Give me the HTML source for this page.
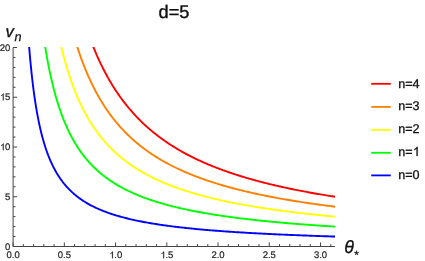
<!DOCTYPE html>
<html><head><meta charset="utf-8"><title>d=5</title>
<style>
html,body{margin:0;padding:0;background:#fff;}
body{width:425px;height:261px;overflow:hidden;font-family:"Liberation Sans",sans-serif;}
svg{display:block;will-change:transform;transform:translateZ(0);}
text{font-family:"Liberation Sans",sans-serif;text-rendering:geometricPrecision;}
.tk{font-size:9.5px;fill:#222;stroke:#222;stroke-width:0.2px;}
.lg{font-size:12.6px;fill:#111;stroke:#111;stroke-width:0.3px;letter-spacing:-0.1px;}
.ti{font-size:18.2px;fill:#111;stroke:#111;stroke-width:0.4px;}
.ax{font-size:17px;font-style:italic;fill:#111;stroke:#111;stroke-width:0.3px;}
.sub{font-size:14px;font-style:italic;fill:#111;stroke:#111;stroke-width:0.25px;}
</style></head><body>
<svg width="425" height="261" viewBox="0 0 425 261">
<rect width="425" height="261" fill="#fff"/>
<defs><clipPath id="cp"><rect x="13" y="47" width="323" height="201"/></clipPath></defs>
<g clip-path="url(#cp)"><path d="M28.88 43.52 L28.89 43.66 L28.92 44.00 L28.96 44.50 L29.01 45.17 L29.07 45.97 L29.15 46.91 L29.23 47.97 L29.33 49.14 L29.44 50.42 L29.55 51.81 L29.68 53.28 L29.81 54.84 L29.96 56.49 L30.11 58.20 L30.27 59.99 L30.45 61.83 L30.63 63.74 L30.81 65.69 L31.01 67.68 L31.22 69.72 L31.43 71.79 L31.66 73.89 L31.89 76.01 L32.13 78.16 L32.37 80.32 L32.63 82.50 L32.89 84.68 L33.17 86.87 L33.45 89.06 L33.73 91.25 L34.03 93.44 L34.33 95.62 L34.64 97.80 L34.96 99.96 L35.28 102.11 L35.62 104.25 L35.96 106.37 L36.31 108.47 L36.66 110.55 L37.02 112.61 L37.39 114.65 L37.77 116.67 L38.16 118.66 L38.55 120.63 L38.95 122.57 L39.35 124.49 L39.77 126.38 L40.19 128.25 L40.61 130.09 L41.05 131.90 L41.49 133.68 L41.94 135.43 L42.39 137.16 L42.86 138.86 L43.33 140.53 L43.80 142.17 L44.29 143.79 L44.78 145.38 L45.27 146.94 L45.78 148.47 L46.29 149.98 L46.80 151.46 L47.33 152.92 L47.86 154.34 L48.39 155.75 L48.94 157.12 L49.49 158.47 L50.05 159.80 L50.61 161.10 L51.18 162.38 L51.76 163.64 L52.34 164.87 L52.93 166.08 L53.52 167.26 L54.13 168.43 L54.74 169.57 L55.35 170.69 L55.97 171.79 L56.60 172.87 L57.24 173.93 L57.88 174.97 L58.53 175.99 L59.18 176.99 L59.84 177.97 L60.51 178.93 L61.18 179.88 L61.86 180.81 L62.54 181.72 L63.24 182.61 L63.93 183.49 L64.64 184.35 L65.35 185.20 L66.07 186.02 L66.79 186.84 L67.52 187.64 L68.25 188.42 L68.99 189.19 L69.74 189.95 L70.49 190.69 L71.25 191.42 L72.02 192.14 L72.79 192.84 L73.57 193.53 L74.35 194.21 L75.14 194.87 L75.94 195.53 L76.74 196.17 L77.55 196.80 L78.36 197.42 L79.18 198.03 L80.01 198.63 L80.84 199.22 L81.68 199.79 L82.53 200.36 L83.38 200.92 L84.23 201.47 L85.09 202.01 L85.96 202.54 L86.83 203.06 L87.71 203.57 L88.60 204.07 L89.49 204.57 L90.39 205.06 L91.29 205.54 L92.20 206.01 L93.11 206.47 L94.04 206.92 L94.96 207.37 L95.89 207.81 L96.83 208.25 L97.78 208.67 L98.72 209.09 L99.68 209.50 L100.64 209.91 L101.61 210.31 L102.58 210.70 L103.56 211.09 L104.54 211.47 L105.53 211.85 L106.53 212.22 L107.53 212.58 L108.54 212.94 L109.55 213.29 L110.57 213.64 L111.59 213.98 L112.62 214.31 L113.66 214.65 L114.70 214.97 L115.74 215.29 L116.80 215.61 L117.85 215.92 L118.92 216.23 L119.99 216.53 L121.06 216.83 L122.14 217.12 L123.23 217.41 L124.32 217.70 L125.41 217.98 L126.52 218.26 L127.63 218.53 L128.74 218.80 L129.86 219.07 L130.98 219.33 L132.11 219.59 L133.25 219.84 L134.39 220.09 L135.54 220.34 L136.69 220.58 L137.85 220.82 L139.01 221.06 L140.18 221.29 L141.35 221.53 L142.53 221.75 L143.72 221.98 L144.91 222.20 L146.11 222.42 L147.31 222.63 L148.51 222.85 L149.73 223.06 L150.95 223.26 L152.17 223.47 L153.40 223.67 L154.63 223.87 L155.87 224.06 L157.12 224.26 L158.37 224.45 L159.62 224.64 L160.88 224.83 L162.15 225.01 L163.42 225.19 L164.70 225.37 L165.98 225.55 L167.27 225.72 L168.56 225.90 L169.86 226.07 L171.17 226.24 L172.48 226.40 L173.79 226.57 L175.11 226.73 L176.44 226.89 L177.77 227.05 L179.10 227.20 L180.44 227.36 L181.79 227.51 L183.14 227.66 L184.50 227.81 L185.86 227.96 L187.23 228.11 L188.60 228.25 L189.98 228.39 L191.36 228.53 L192.75 228.67 L194.15 228.81 L195.55 228.94 L196.95 229.08 L198.36 229.21 L199.77 229.34 L201.19 229.47 L202.62 229.60 L204.05 229.73 L205.49 229.85 L206.93 229.97 L208.37 230.10 L209.83 230.22 L211.28 230.34 L212.74 230.46 L214.21 230.57 L215.68 230.69 L217.16 230.80 L218.64 230.92 L220.13 231.03 L221.62 231.14 L223.12 231.25 L224.62 231.36 L226.13 231.46 L227.65 231.57 L229.16 231.68 L230.69 231.78 L232.22 231.88 L233.75 231.98 L235.29 232.08 L236.83 232.18 L238.38 232.28 L239.94 232.38 L241.50 232.48 L243.06 232.57 L244.63 232.67 L246.21 232.76 L247.79 232.85 L249.37 232.94 L250.96 233.03 L252.56 233.12 L254.16 233.21 L255.76 233.30 L257.37 233.39 L258.99 233.47 L260.61 233.56 L262.23 233.64 L263.86 233.73 L265.50 233.81 L267.14 233.89 L268.79 233.97 L270.44 234.05 L272.09 234.13 L273.75 234.21 L275.42 234.29 L277.09 234.37 L278.77 234.44 L280.45 234.52 L282.13 234.59 L283.82 234.67 L285.52 234.74 L287.22 234.82 L288.93 234.89 L290.64 234.96 L292.35 235.03 L294.07 235.10 L295.80 235.17 L297.53 235.24 L299.27 235.31 L301.01 235.37 L302.75 235.44 L304.50 235.51 L306.26 235.57 L308.02 235.64 L309.78 235.70 L311.56 235.77 L313.33 235.83 L315.11 235.89 L316.90 235.96 L318.69 236.02 L320.48 236.08 L322.28 236.14 L324.09 236.20 L325.90 236.26 L327.71 236.32 L329.53 236.38 L331.36 236.44 L333.18 236.49 L335.02 236.55" stroke="#0000ff" stroke-width="1.9" fill="none" stroke-linejoin="round"/><path d="M44.66 43.52 L44.67 43.58 L44.70 43.75 L44.73 43.99 L44.78 44.30 L44.84 44.69 L44.91 45.14 L45.00 45.65 L45.09 46.22 L45.19 46.85 L45.30 47.54 L45.42 48.27 L45.55 49.05 L45.68 49.88 L45.83 50.76 L45.98 51.68 L46.15 52.64 L46.32 53.64 L46.50 54.67 L46.68 55.74 L46.88 56.85 L47.08 57.98 L47.29 59.15 L47.51 60.34 L47.74 61.57 L47.98 62.81 L48.22 64.08 L48.47 65.37 L48.73 66.68 L48.99 68.01 L49.26 69.35 L49.54 70.71 L49.83 72.08 L50.12 73.47 L50.43 74.87 L50.73 76.28 L51.05 77.69 L51.37 79.12 L51.70 80.55 L52.04 81.99 L52.38 83.43 L52.74 84.87 L53.09 86.32 L53.46 87.77 L53.83 89.22 L54.21 90.66 L54.59 92.11 L54.99 93.56 L55.38 95.00 L55.79 96.44 L56.20 97.87 L56.62 99.30 L57.05 100.73 L57.48 102.15 L57.92 103.56 L58.36 104.96 L58.81 106.36 L59.27 107.75 L59.74 109.14 L60.21 110.51 L60.69 111.87 L61.17 113.23 L61.66 114.58 L62.16 115.91 L62.66 117.24 L63.17 118.55 L63.68 119.86 L64.21 121.15 L64.73 122.43 L65.27 123.70 L65.81 124.96 L66.36 126.21 L66.91 127.45 L67.47 128.67 L68.03 129.89 L68.61 131.09 L69.18 132.28 L69.77 133.45 L70.36 134.62 L70.95 135.77 L71.56 136.91 L72.16 138.04 L72.78 139.15 L73.40 140.26 L74.02 141.35 L74.66 142.43 L75.30 143.50 L75.94 144.55 L76.59 145.60 L77.25 146.63 L77.91 147.65 L78.58 148.66 L79.25 149.66 L79.93 150.64 L80.61 151.61 L81.31 152.58 L82.00 153.53 L82.71 154.47 L83.42 155.39 L84.13 156.31 L84.85 157.22 L85.58 158.11 L86.31 158.99 L87.05 159.87 L87.79 160.73 L88.54 161.58 L89.29 162.42 L90.06 163.25 L90.82 164.08 L91.59 164.89 L92.37 165.69 L93.16 166.48 L93.94 167.26 L94.74 168.03 L95.54 168.79 L96.35 169.55 L97.16 170.29 L97.98 171.02 L98.80 171.75 L99.63 172.46 L100.46 173.17 L101.30 173.87 L102.15 174.56 L103.00 175.24 L103.85 175.91 L104.72 176.58 L105.58 177.23 L106.46 177.88 L107.34 178.52 L108.22 179.15 L109.11 179.78 L110.00 180.39 L110.91 181.00 L111.81 181.60 L112.72 182.20 L113.64 182.78 L114.56 183.36 L115.49 183.93 L116.42 184.50 L117.36 185.06 L118.31 185.61 L119.26 186.15 L120.21 186.69 L121.17 187.22 L122.14 187.75 L123.11 188.27 L124.08 188.78 L125.07 189.28 L126.05 189.78 L127.05 190.28 L128.04 190.77 L129.05 191.25 L130.06 191.73 L131.07 192.20 L132.09 192.66 L133.11 193.12 L134.14 193.58 L135.18 194.02 L136.22 194.47 L137.26 194.91 L138.32 195.34 L139.37 195.77 L140.43 196.19 L141.50 196.61 L142.57 197.02 L143.65 197.43 L144.73 197.83 L145.82 198.23 L146.91 198.63 L148.01 199.02 L149.11 199.40 L150.22 199.78 L151.34 200.16 L152.46 200.53 L153.58 200.90 L154.71 201.26 L155.84 201.62 L156.98 201.98 L158.13 202.33 L159.28 202.68 L160.43 203.02 L161.59 203.36 L162.76 203.69 L163.93 204.03 L165.11 204.36 L166.29 204.68 L167.47 205.00 L168.66 205.32 L169.86 205.63 L171.06 205.94 L172.27 206.25 L173.48 206.56 L174.70 206.86 L175.92 207.15 L177.14 207.45 L178.38 207.74 L179.61 208.03 L180.85 208.31 L182.10 208.59 L183.35 208.87 L184.61 209.15 L185.87 209.42 L187.14 209.69 L188.41 209.96 L189.69 210.22 L190.97 210.48 L192.26 210.74 L193.55 211.00 L194.85 211.25 L196.15 211.50 L197.46 211.75 L198.77 212.00 L200.09 212.24 L201.41 212.48 L202.73 212.72 L204.07 212.95 L205.40 213.19 L206.75 213.42 L208.09 213.65 L209.44 213.87 L210.80 214.10 L212.16 214.32 L213.53 214.54 L214.90 214.76 L216.28 214.97 L217.66 215.18 L219.05 215.39 L220.44 215.60 L221.83 215.81 L223.24 216.01 L224.64 216.22 L226.05 216.42 L227.47 216.62 L228.89 216.81 L230.31 217.01 L231.75 217.20 L233.18 217.39 L234.62 217.58 L236.07 217.77 L237.52 217.95 L238.97 218.14 L240.43 218.32 L241.90 218.50 L243.37 218.68 L244.84 218.86 L246.32 219.03 L247.80 219.21 L249.29 219.38 L250.78 219.55 L252.28 219.72 L253.79 219.88 L255.29 220.05 L256.81 220.21 L258.33 220.38 L259.85 220.54 L261.38 220.70 L262.91 220.86 L264.44 221.01 L265.99 221.17 L267.53 221.32 L269.08 221.47 L270.64 221.63 L272.20 221.78 L273.77 221.92 L275.34 222.07 L276.91 222.22 L278.49 222.36 L280.08 222.50 L281.67 222.65 L283.26 222.79 L284.86 222.93 L286.46 223.07 L288.07 223.20 L289.68 223.34 L291.30 223.47 L292.93 223.61 L294.55 223.74 L296.18 223.87 L297.82 224.00 L299.46 224.13 L301.11 224.26 L302.76 224.38 L304.42 224.51 L306.08 224.63 L307.74 224.76 L309.41 224.88 L311.09 225.00 L312.76 225.12 L314.45 225.24 L316.14 225.36 L317.83 225.48 L319.53 225.59 L321.23 225.71 L322.94 225.82 L324.65 225.94 L326.37 226.05 L328.09 226.16 L329.81 226.27 L331.54 226.38 L333.28 226.49 L335.02 226.60" stroke="#00ff00" stroke-width="1.9" fill="none" stroke-linejoin="round"/><path d="M60.44 43.52 L60.45 43.56 L60.47 43.66 L60.51 43.82 L60.56 44.02 L60.61 44.26 L60.68 44.54 L60.76 44.87 L60.84 45.23 L60.94 45.63 L61.04 46.07 L61.16 46.54 L61.28 47.04 L61.41 47.58 L61.54 48.14 L61.69 48.74 L61.84 49.37 L62.01 50.02 L62.18 50.70 L62.35 51.40 L62.54 52.13 L62.73 52.89 L62.93 53.66 L63.14 54.46 L63.35 55.28 L63.58 56.12 L63.80 56.98 L64.04 57.86 L64.28 58.76 L64.54 59.68 L64.79 60.61 L65.06 61.55 L65.33 62.52 L65.61 63.49 L65.89 64.48 L66.18 65.48 L66.48 66.49 L66.79 67.52 L67.10 68.55 L67.42 69.60 L67.74 70.65 L68.08 71.71 L68.42 72.78 L68.76 73.86 L69.11 74.94 L69.47 76.03 L69.83 77.13 L70.20 78.23 L70.58 79.33 L70.97 80.44 L71.36 81.55 L71.75 82.66 L72.15 83.78 L72.56 84.90 L72.98 86.02 L73.40 87.14 L73.83 88.26 L74.26 89.38 L74.70 90.50 L75.14 91.62 L75.59 92.74 L76.05 93.86 L76.52 94.97 L76.99 96.09 L77.46 97.20 L77.94 98.31 L78.43 99.41 L78.92 100.52 L79.42 101.62 L79.93 102.71 L80.44 103.80 L80.96 104.89 L81.48 105.97 L82.01 107.05 L82.54 108.13 L83.09 109.20 L83.63 110.26 L84.18 111.32 L84.74 112.37 L85.31 113.42 L85.87 114.46 L86.45 115.49 L87.03 116.52 L87.62 117.55 L88.21 118.56 L88.81 119.57 L89.41 120.58 L90.02 121.57 L90.63 122.56 L91.26 123.55 L91.88 124.53 L92.51 125.50 L93.15 126.46 L93.79 127.42 L94.44 128.36 L95.09 129.31 L95.75 130.24 L96.42 131.17 L97.09 132.09 L97.77 133.00 L98.45 133.91 L99.13 134.81 L99.83 135.70 L100.52 136.58 L101.23 137.46 L101.94 138.33 L102.65 139.19 L103.37 140.05 L104.09 140.90 L104.82 141.74 L105.56 142.57 L106.30 143.40 L107.05 144.22 L107.80 145.03 L108.56 145.83 L109.32 146.63 L110.09 147.42 L110.86 148.20 L111.64 148.98 L112.42 149.75 L113.21 150.51 L114.00 151.27 L114.80 152.02 L115.61 152.76 L116.42 153.49 L117.23 154.22 L118.05 154.94 L118.88 155.66 L119.71 156.36 L120.55 157.07 L121.39 157.76 L122.23 158.45 L123.09 159.13 L123.94 159.81 L124.80 160.48 L125.67 161.14 L126.54 161.79 L127.42 162.44 L128.30 163.09 L129.19 163.73 L130.08 164.36 L130.98 164.98 L131.89 165.60 L132.79 166.22 L133.71 166.83 L134.62 167.43 L135.55 168.02 L136.48 168.61 L137.41 169.20 L138.35 169.78 L139.29 170.35 L140.24 170.92 L141.20 171.48 L142.15 172.04 L143.12 172.59 L144.09 173.14 L145.06 173.68 L146.04 174.22 L147.02 174.75 L148.01 175.27 L149.01 175.79 L150.01 176.31 L151.01 176.82 L152.02 177.33 L153.03 177.83 L154.05 178.32 L155.07 178.82 L156.10 179.30 L157.14 179.79 L158.17 180.26 L159.22 180.74 L160.27 181.20 L161.32 181.67 L162.38 182.13 L163.44 182.58 L164.51 183.03 L165.58 183.48 L166.66 183.92 L167.74 184.36 L168.83 184.80 L169.92 185.22 L171.02 185.65 L172.12 186.07 L173.23 186.49 L174.34 186.90 L175.46 187.31 L176.58 187.72 L177.70 188.12 L178.84 188.52 L179.97 188.92 L181.11 189.31 L182.26 189.69 L183.41 190.08 L184.56 190.46 L185.72 190.83 L186.89 191.21 L188.06 191.58 L189.23 191.94 L190.41 192.31 L191.60 192.67 L192.78 193.02 L193.98 193.37 L195.18 193.72 L196.38 194.07 L197.59 194.41 L198.80 194.75 L200.02 195.09 L201.24 195.42 L202.46 195.76 L203.70 196.08 L204.93 196.41 L206.17 196.73 L207.42 197.05 L208.67 197.37 L209.92 197.68 L211.18 197.99 L212.45 198.30 L213.72 198.60 L214.99 198.90 L216.27 199.20 L217.55 199.50 L218.84 199.79 L220.13 200.09 L221.43 200.37 L222.73 200.66 L224.04 200.95 L225.35 201.23 L226.67 201.51 L227.99 201.78 L229.31 202.06 L230.64 202.33 L231.97 202.60 L233.31 202.86 L234.66 203.13 L236.01 203.39 L237.36 203.65 L238.72 203.91 L240.08 204.16 L241.44 204.42 L242.82 204.67 L244.19 204.92 L245.57 205.16 L246.96 205.41 L248.35 205.65 L249.74 205.89 L251.14 206.13 L252.54 206.37 L253.95 206.60 L255.36 206.84 L256.78 207.07 L258.20 207.29 L259.63 207.52 L261.06 207.75 L262.49 207.97 L263.93 208.19 L265.38 208.41 L266.83 208.63 L268.28 208.84 L269.74 209.06 L271.20 209.27 L272.67 209.48 L274.14 209.69 L275.62 209.90 L277.10 210.10 L278.58 210.30 L280.07 210.51 L281.56 210.71 L283.06 210.91 L284.57 211.10 L286.07 211.30 L287.59 211.49 L289.10 211.68 L290.62 211.87 L292.15 212.06 L293.68 212.25 L295.21 212.44 L296.75 212.62 L298.30 212.81 L299.84 212.99 L301.40 213.17 L302.95 213.35 L304.51 213.53 L306.08 213.70 L307.65 213.88 L309.22 214.05 L310.80 214.22 L312.39 214.39 L313.97 214.56 L315.57 214.73 L317.16 214.90 L318.76 215.06 L320.37 215.23 L321.98 215.39 L323.59 215.55 L325.21 215.71 L326.84 215.87 L328.46 216.03 L330.10 216.19 L331.73 216.34 L333.37 216.50 L335.02 216.65" stroke="#ffff00" stroke-width="1.9" fill="none" stroke-linejoin="round"/><path d="M76.22 43.52 L76.23 43.55 L76.25 43.62 L76.29 43.73 L76.33 43.87 L76.38 44.04 L76.45 44.25 L76.52 44.48 L76.60 44.73 L76.69 45.02 L76.79 45.33 L76.90 45.66 L77.01 46.02 L77.13 46.41 L77.26 46.81 L77.40 47.24 L77.54 47.69 L77.70 48.16 L77.86 48.65 L78.02 49.16 L78.20 49.68 L78.38 50.23 L78.57 50.80 L78.76 51.38 L78.97 51.98 L79.18 52.59 L79.39 53.23 L79.61 53.87 L79.84 54.54 L80.08 55.21 L80.32 55.90 L80.57 56.61 L80.83 57.33 L81.09 58.06 L81.36 58.80 L81.63 59.55 L81.92 60.32 L82.20 61.09 L82.50 61.88 L82.80 62.68 L83.11 63.48 L83.42 64.29 L83.74 65.12 L84.06 65.95 L84.39 66.79 L84.73 67.63 L85.07 68.49 L85.42 69.35 L85.78 70.21 L86.14 71.09 L86.51 71.96 L86.88 72.85 L87.26 73.74 L87.65 74.63 L88.04 75.52 L88.43 76.42 L88.84 77.33 L89.24 78.24 L89.66 79.15 L90.08 80.06 L90.50 80.97 L90.94 81.89 L91.37 82.81 L91.82 83.73 L92.26 84.65 L92.72 85.58 L93.18 86.50 L93.64 87.42 L94.11 88.35 L94.59 89.27 L95.07 90.20 L95.56 91.12 L96.05 92.05 L96.55 92.97 L97.05 93.89 L97.56 94.81 L98.08 95.73 L98.60 96.65 L99.13 97.56 L99.66 98.48 L100.19 99.39 L100.74 100.30 L101.28 101.21 L101.84 102.11 L102.39 103.01 L102.96 103.91 L103.53 104.81 L104.10 105.71 L104.68 106.60 L105.26 107.48 L105.85 108.37 L106.45 109.25 L107.05 110.13 L107.66 111.00 L108.27 111.87 L108.88 112.74 L109.50 113.60 L110.13 114.46 L110.76 115.31 L111.40 116.16 L112.04 117.01 L112.69 117.85 L113.34 118.69 L114.00 119.52 L114.66 120.35 L115.33 121.17 L116.00 121.99 L116.68 122.81 L117.37 123.62 L118.05 124.42 L118.75 125.22 L119.45 126.02 L120.15 126.81 L120.86 127.60 L121.57 128.38 L122.29 129.16 L123.01 129.93 L123.74 130.70 L124.47 131.46 L125.21 132.22 L125.96 132.97 L126.71 133.72 L127.46 134.46 L128.22 135.20 L128.98 135.93 L129.75 136.66 L130.52 137.39 L131.30 138.10 L132.08 138.82 L132.87 139.53 L133.66 140.23 L134.46 140.93 L135.27 141.62 L136.07 142.31 L136.89 143.00 L137.70 143.67 L138.52 144.35 L139.35 145.02 L140.18 145.68 L141.02 146.34 L141.86 147.00 L142.71 147.65 L143.56 148.29 L144.42 148.93 L145.28 149.57 L146.14 150.20 L147.01 150.82 L147.89 151.44 L148.77 152.06 L149.65 152.67 L150.54 153.28 L151.44 153.88 L152.33 154.48 L153.24 155.07 L154.15 155.66 L155.06 156.25 L155.98 156.83 L156.90 157.40 L157.83 157.97 L158.76 158.54 L159.70 159.10 L160.64 159.66 L161.58 160.21 L162.54 160.76 L163.49 161.31 L164.45 161.85 L165.42 162.38 L166.39 162.91 L167.36 163.44 L168.34 163.97 L169.32 164.49 L170.31 165.00 L171.30 165.51 L172.30 166.02 L173.30 166.52 L174.31 167.02 L175.32 167.52 L176.34 168.01 L177.36 168.50 L178.38 168.98 L179.41 169.46 L180.44 169.94 L181.48 170.41 L182.53 170.88 L183.57 171.34 L184.63 171.80 L185.68 172.26 L186.75 172.72 L187.81 173.17 L188.88 173.61 L189.96 174.06 L191.04 174.49 L192.12 174.93 L193.21 175.36 L194.30 175.79 L195.40 176.22 L196.50 176.64 L197.61 177.06 L198.72 177.48 L199.84 177.89 L200.96 178.30 L202.08 178.70 L203.21 179.11 L204.35 179.51 L205.48 179.90 L206.63 180.30 L207.78 180.69 L208.93 181.07 L210.08 181.46 L211.24 181.84 L212.41 182.22 L213.58 182.59 L214.75 182.96 L215.93 183.33 L217.11 183.70 L218.30 184.06 L219.49 184.42 L220.69 184.78 L221.89 185.13 L223.09 185.49 L224.30 185.84 L225.52 186.18 L226.74 186.53 L227.96 186.87 L229.19 187.21 L230.42 187.54 L231.65 187.88 L232.89 188.21 L234.14 188.54 L235.39 188.86 L236.64 189.18 L237.90 189.50 L239.16 189.82 L240.42 190.14 L241.70 190.45 L242.97 190.76 L244.25 191.07 L245.53 191.38 L246.82 191.68 L248.11 191.98 L249.41 192.28 L250.71 192.58 L252.02 192.87 L253.33 193.17 L254.64 193.46 L255.96 193.74 L257.28 194.03 L258.61 194.31 L259.94 194.59 L261.28 194.87 L262.62 195.15 L263.96 195.43 L265.31 195.70 L266.66 195.97 L268.02 196.24 L269.38 196.51 L270.75 196.77 L272.12 197.03 L273.49 197.30 L274.87 197.55 L276.25 197.81 L277.64 198.07 L279.03 198.32 L280.42 198.57 L281.82 198.82 L283.23 199.07 L284.64 199.32 L286.05 199.56 L287.47 199.80 L288.89 200.04 L290.31 200.28 L291.74 200.52 L293.17 200.75 L294.61 200.99 L296.05 201.22 L297.50 201.45 L298.95 201.68 L300.41 201.91 L301.86 202.13 L303.33 202.35 L304.80 202.58 L306.27 202.80 L307.74 203.02 L309.22 203.23 L310.71 203.45 L312.19 203.66 L313.69 203.88 L315.18 204.09 L316.68 204.30 L318.19 204.50 L319.70 204.71 L321.21 204.92 L322.73 205.12 L324.25 205.32 L325.78 205.52 L327.31 205.72 L328.84 205.92 L330.38 206.12 L331.92 206.31 L333.47 206.51 L335.02 206.70" stroke="#ff8000" stroke-width="1.9" fill="none" stroke-linejoin="round"/><path d="M92.00 43.52 L92.01 43.54 L92.03 43.60 L92.06 43.68 L92.10 43.78 L92.15 43.91 L92.21 44.07 L92.28 44.24 L92.36 44.43 L92.44 44.65 L92.53 44.88 L92.63 45.14 L92.74 45.41 L92.86 45.70 L92.98 46.00 L93.11 46.33 L93.24 46.67 L93.39 47.02 L93.54 47.40 L93.69 47.78 L93.86 48.19 L94.03 48.60 L94.21 49.04 L94.39 49.48 L94.58 49.94 L94.78 50.41 L94.98 50.90 L95.19 51.40 L95.40 51.91 L95.63 52.43 L95.85 52.97 L96.09 53.51 L96.33 54.07 L96.57 54.64 L96.83 55.22 L97.08 55.81 L97.35 56.40 L97.62 57.01 L97.90 57.63 L98.18 58.26 L98.47 58.89 L98.76 59.53 L99.06 60.19 L99.36 60.85 L99.68 61.51 L99.99 62.19 L100.32 62.87 L100.64 63.56 L100.98 64.25 L101.32 64.95 L101.66 65.66 L102.01 66.37 L102.37 67.09 L102.73 67.82 L103.10 68.54 L103.47 69.28 L103.85 70.02 L104.23 70.76 L104.62 71.51 L105.01 72.26 L105.41 73.01 L105.82 73.77 L106.23 74.53 L106.64 75.29 L107.07 76.06 L107.49 76.83 L107.92 77.60 L108.36 78.38 L108.80 79.15 L109.25 79.93 L109.70 80.71 L110.16 81.49 L110.62 82.28 L111.09 83.06 L111.56 83.85 L112.04 84.63 L112.53 85.42 L113.02 86.21 L113.51 87.00 L114.01 87.79 L114.51 88.58 L115.02 89.36 L115.54 90.15 L116.05 90.94 L116.58 91.73 L117.11 92.52 L117.64 93.30 L118.18 94.09 L118.72 94.87 L119.27 95.66 L119.83 96.44 L120.39 97.22 L120.95 98.00 L121.52 98.78 L122.09 99.56 L122.67 100.34 L123.26 101.11 L123.84 101.88 L124.44 102.65 L125.04 103.42 L125.64 104.19 L126.25 104.95 L126.86 105.72 L127.48 106.48 L128.10 107.23 L128.73 107.99 L129.36 108.74 L130.00 109.49 L130.64 110.24 L131.28 110.99 L131.93 111.73 L132.59 112.47 L133.25 113.20 L133.92 113.94 L134.59 114.67 L135.26 115.40 L135.94 116.12 L136.62 116.85 L137.31 117.56 L138.01 118.28 L138.70 118.99 L139.41 119.70 L140.12 120.41 L140.83 121.11 L141.54 121.81 L142.27 122.51 L142.99 123.20 L143.72 123.89 L144.46 124.58 L145.20 125.26 L145.94 125.94 L146.69 126.62 L147.45 127.29 L148.20 127.96 L148.97 128.62 L149.73 129.29 L150.51 129.94 L151.28 130.60 L152.06 131.25 L152.85 131.90 L153.64 132.54 L154.43 133.18 L155.23 133.82 L156.04 134.45 L156.85 135.08 L157.66 135.71 L158.48 136.33 L159.30 136.95 L160.12 137.57 L160.95 138.18 L161.79 138.79 L162.63 139.39 L163.47 140.00 L164.32 140.59 L165.18 141.19 L166.03 141.78 L166.90 142.36 L167.76 142.95 L168.63 143.53 L169.51 144.10 L170.39 144.68 L171.27 145.25 L172.16 145.81 L173.05 146.37 L173.95 146.93 L174.85 147.49 L175.76 148.04 L176.67 148.59 L177.58 149.13 L178.50 149.67 L179.42 150.21 L180.35 150.74 L181.28 151.27 L182.22 151.80 L183.16 152.33 L184.11 152.85 L185.06 153.36 L186.01 153.88 L186.97 154.39 L187.93 154.89 L188.90 155.40 L189.87 155.90 L190.85 156.40 L191.82 156.89 L192.81 157.38 L193.80 157.87 L194.79 158.35 L195.79 158.83 L196.79 159.31 L197.79 159.79 L198.80 160.26 L199.82 160.73 L200.83 161.19 L201.86 161.65 L202.88 162.11 L203.91 162.57 L204.95 163.02 L205.99 163.47 L207.03 163.92 L208.08 164.36 L209.13 164.80 L210.19 165.24 L211.25 165.67 L212.31 166.11 L213.38 166.54 L214.46 166.96 L215.53 167.39 L216.62 167.81 L217.70 168.22 L218.79 168.64 L219.88 169.05 L220.98 169.46 L222.09 169.87 L223.19 170.27 L224.30 170.67 L225.42 171.07 L226.54 171.46 L227.66 171.86 L228.79 172.25 L229.92 172.63 L231.05 173.02 L232.19 173.40 L233.34 173.78 L234.49 174.16 L235.64 174.53 L236.79 174.90 L237.96 175.27 L239.12 175.64 L240.29 176.01 L241.46 176.37 L242.64 176.73 L243.82 177.08 L245.00 177.44 L246.19 177.79 L247.39 178.14 L248.58 178.49 L249.78 178.83 L250.99 179.18 L252.20 179.52 L253.41 179.86 L254.63 180.19 L255.85 180.53 L257.08 180.86 L258.31 181.19 L259.54 181.51 L260.78 181.84 L262.02 182.16 L263.27 182.48 L264.52 182.80 L265.77 183.12 L267.03 183.43 L268.29 183.74 L269.56 184.05 L270.83 184.36 L272.10 184.67 L273.38 184.97 L274.66 185.27 L275.95 185.57 L277.24 185.87 L278.54 186.16 L279.83 186.46 L281.14 186.75 L282.44 187.04 L283.75 187.33 L285.07 187.61 L286.39 187.90 L287.71 188.18 L289.03 188.46 L290.37 188.74 L291.70 189.01 L293.04 189.29 L294.38 189.56 L295.73 189.83 L297.08 190.10 L298.43 190.37 L299.79 190.64 L301.15 190.90 L302.52 191.16 L303.89 191.42 L305.26 191.68 L306.64 191.94 L308.02 192.20 L309.41 192.45 L310.80 192.70 L312.19 192.95 L313.59 193.20 L314.99 193.45 L316.39 193.69 L317.80 193.94 L319.22 194.18 L320.63 194.42 L322.05 194.66 L323.48 194.90 L324.91 195.14 L326.34 195.37 L327.78 195.61 L329.22 195.84 L330.66 196.07 L332.11 196.30 L333.56 196.52 L335.02 196.75" stroke="#ff0000" stroke-width="1.9" fill="none" stroke-linejoin="round"/></g>
<g stroke="#444" stroke-width="1" fill="none"><line x1="13.10" y1="246.50" x2="335.02" y2="246.50"/><line x1="13.10" y1="246.50" x2="13.10" y2="47.50"/><line x1="13.10" y1="246.50" x2="13.10" y2="242.50"/><line x1="23.35" y1="246.50" x2="23.35" y2="244.10"/><line x1="33.59" y1="246.50" x2="33.59" y2="244.10"/><line x1="43.84" y1="246.50" x2="43.84" y2="244.10"/><line x1="54.09" y1="246.50" x2="54.09" y2="244.10"/><line x1="64.33" y1="246.50" x2="64.33" y2="242.50"/><line x1="74.58" y1="246.50" x2="74.58" y2="244.10"/><line x1="84.83" y1="246.50" x2="84.83" y2="244.10"/><line x1="95.08" y1="246.50" x2="95.08" y2="244.10"/><line x1="105.32" y1="246.50" x2="105.32" y2="244.10"/><line x1="115.57" y1="246.50" x2="115.57" y2="242.50"/><line x1="125.82" y1="246.50" x2="125.82" y2="244.10"/><line x1="136.06" y1="246.50" x2="136.06" y2="244.10"/><line x1="146.31" y1="246.50" x2="146.31" y2="244.10"/><line x1="156.56" y1="246.50" x2="156.56" y2="244.10"/><line x1="166.80" y1="246.50" x2="166.80" y2="242.50"/><line x1="177.05" y1="246.50" x2="177.05" y2="244.10"/><line x1="187.30" y1="246.50" x2="187.30" y2="244.10"/><line x1="197.55" y1="246.50" x2="197.55" y2="244.10"/><line x1="207.79" y1="246.50" x2="207.79" y2="244.10"/><line x1="218.04" y1="246.50" x2="218.04" y2="242.50"/><line x1="228.29" y1="246.50" x2="228.29" y2="244.10"/><line x1="238.53" y1="246.50" x2="238.53" y2="244.10"/><line x1="248.78" y1="246.50" x2="248.78" y2="244.10"/><line x1="259.03" y1="246.50" x2="259.03" y2="244.10"/><line x1="269.28" y1="246.50" x2="269.28" y2="242.50"/><line x1="279.52" y1="246.50" x2="279.52" y2="244.10"/><line x1="289.77" y1="246.50" x2="289.77" y2="244.10"/><line x1="300.02" y1="246.50" x2="300.02" y2="244.10"/><line x1="310.26" y1="246.50" x2="310.26" y2="244.10"/><line x1="320.51" y1="246.50" x2="320.51" y2="242.50"/><line x1="330.76" y1="246.50" x2="330.76" y2="244.10"/><line x1="13.10" y1="246.50" x2="17.10" y2="246.50"/><line x1="13.10" y1="236.55" x2="15.50" y2="236.55"/><line x1="13.10" y1="226.60" x2="15.50" y2="226.60"/><line x1="13.10" y1="216.65" x2="15.50" y2="216.65"/><line x1="13.10" y1="206.70" x2="15.50" y2="206.70"/><line x1="13.10" y1="196.75" x2="17.10" y2="196.75"/><line x1="13.10" y1="186.80" x2="15.50" y2="186.80"/><line x1="13.10" y1="176.85" x2="15.50" y2="176.85"/><line x1="13.10" y1="166.90" x2="15.50" y2="166.90"/><line x1="13.10" y1="156.95" x2="15.50" y2="156.95"/><line x1="13.10" y1="147.00" x2="17.10" y2="147.00"/><line x1="13.10" y1="137.05" x2="15.50" y2="137.05"/><line x1="13.10" y1="127.10" x2="15.50" y2="127.10"/><line x1="13.10" y1="117.15" x2="15.50" y2="117.15"/><line x1="13.10" y1="107.20" x2="15.50" y2="107.20"/><line x1="13.10" y1="97.25" x2="17.10" y2="97.25"/><line x1="13.10" y1="87.30" x2="15.50" y2="87.30"/><line x1="13.10" y1="77.35" x2="15.50" y2="77.35"/><line x1="13.10" y1="67.40" x2="15.50" y2="67.40"/><line x1="13.10" y1="57.45" x2="15.50" y2="57.45"/><line x1="13.10" y1="47.50" x2="17.10" y2="47.50"/></g>
<g><text x="6.50" y="258.30" class="tk">0.0</text><text x="57.73" y="258.30" class="tk">0.5</text><path transform="translate(109.35 258.30) scale(0.00464)" d="M763 0H583V-1147Q518 -1085 412.5 -1023Q307 -961 223 -930V-1104Q374 -1175 487 -1276Q600 -1377 647 -1472H763Z" fill="#222" stroke="#222" stroke-width="43.1"/><text x="114.25" y="258.30" class="tk">.0</text><path transform="translate(160.58 258.30) scale(0.00464)" d="M763 0H583V-1147Q518 -1085 412.5 -1023Q307 -961 223 -930V-1104Q374 -1175 487 -1276Q600 -1377 647 -1472H763Z" fill="#222" stroke="#222" stroke-width="43.1"/><text x="165.49" y="258.30" class="tk">.5</text><text x="211.44" y="258.30" class="tk">2.0</text><text x="262.67" y="258.30" class="tk">2.5</text><text x="313.91" y="258.30" class="tk">3.0</text><text x="5.02" y="250.10" class="tk">0</text><text x="5.02" y="200.05" class="tk">5</text><path transform="translate(0.11 150.30) scale(0.00464)" d="M763 0H583V-1147Q518 -1085 412.5 -1023Q307 -961 223 -930V-1104Q374 -1175 487 -1276Q600 -1377 647 -1472H763Z" fill="#222" stroke="#222" stroke-width="43.1"/><text x="5.02" y="150.30" class="tk">0</text><path transform="translate(0.11 100.30) scale(0.00464)" d="M763 0H583V-1147Q518 -1085 412.5 -1023Q307 -961 223 -930V-1104Q374 -1175 487 -1276Q600 -1377 647 -1472H763Z" fill="#222" stroke="#222" stroke-width="43.1"/><text x="5.02" y="100.30" class="tk">5</text><text x="-0.27" y="50.50" class="tk">20</text></g>
<g><line x1="371.2" y1="83.8" x2="390.8" y2="83.8" stroke="#ff0000" stroke-width="1.8"/><text x="398.30" y="87.70" class="lg">n=4</text><line x1="371.2" y1="106.9" x2="390.8" y2="106.9" stroke="#ff8000" stroke-width="1.8"/><text x="398.30" y="110.40" class="lg">n=3</text><line x1="371.2" y1="129.9" x2="390.8" y2="129.9" stroke="#ffff00" stroke-width="1.8"/><text x="398.30" y="133.10" class="lg">n=2</text><line x1="371.2" y1="152.8" x2="390.8" y2="152.8" stroke="#00ff00" stroke-width="1.8"/><text x="398.30" y="155.90" class="lg">n=</text><path transform="translate(412.97 155.90) scale(0.00615)" d="M763 0H583V-1147Q518 -1085 412.5 -1023Q307 -961 223 -930V-1104Q374 -1175 487 -1276Q600 -1377 647 -1472H763Z" fill="#111" stroke="#111" stroke-width="48.8"/><line x1="371.2" y1="175.4" x2="390.8" y2="175.4" stroke="#0000ff" stroke-width="1.8"/><text x="398.30" y="178.70" class="lg">n=0</text></g>
<text x="174" y="17.6" text-anchor="middle" class="ti">d=5</text>
<text x="5.6" y="37.2" class="ax" style="font-size:16.7px">v</text><text x="14.5" y="40.8" class="sub" style="font-size:12.7px">n</text>
<text x="344.2" y="252.6" class="ax" style="font-size:17.8px">θ</text><text x="356.55" y="258.85" text-anchor="middle" class="sub" style="font-style:normal;font-size:12px">*</text>
</svg>
</body></html>
